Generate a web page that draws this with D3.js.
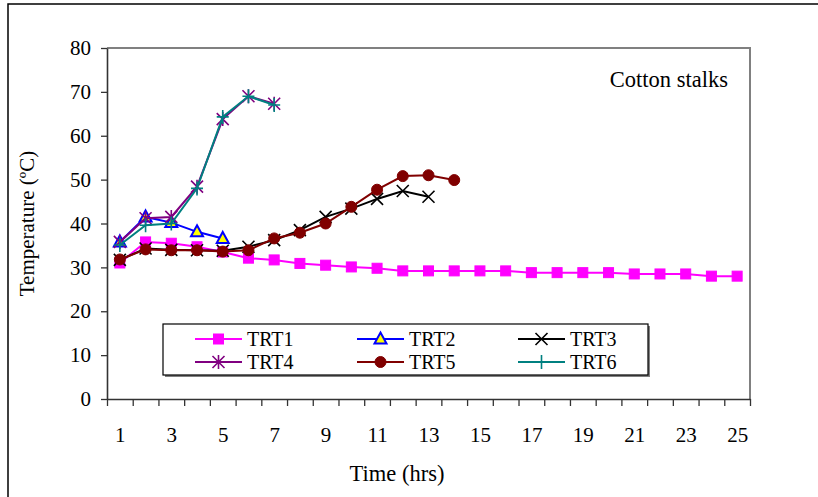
<!DOCTYPE html>
<meta charset="utf-8">
<head>
	<title>Cotton stalks</title>
	<script type="text/javascript" src="https://cdn.jsdelivr.net/npm/d3@7"></script>
	<style>
		body { margin: 0; background: #fff; }
		svg, svg text { font-family: 'Liberation Serif', 'Times New Roman', Times, 'DejaVu Serif', serif !important; fill: #000; }
	</style>
</head>
<body>
<div id="chart"></div>
<script>
	// hours on the category axis
	var hours = d3.range(1, 26);
	var xLabels = [1, 3, 5, 7, 9, 11, 13, 15, 17, 19, 21, 23, 25];
	var yTicks = [0, 10, 20, 30, 40, 50, 60, 70, 80];

	// temperature readings, one array per treatment
	var trt1 = [31.0, 35.8, 35.5, 34.7, 33.5, 32.1, 31.7, 30.9, 30.5, 30.1, 29.8, 29.2, 29.2,
		29.2, 29.2, 29.2, 28.8, 28.8, 28.8, 28.8, 28.5, 28.5, 28.5, 28.0, 28.0];
	var trt2 = [35.8, 41.5, 40.2, 38.1, 36.6];
	var trt3 = [31.7, 34.3, 34.0, 33.9, 33.8, 34.7, 36.2, 38.5, 41.5, 43.4, 45.6, 47.4, 46.1];
	var trt4 = [35.8, 41.2, 41.5, 48.4, 63.8, 69.0, 67.3];
	var trt5 = [31.8, 34.1, 33.9, 33.9, 33.6, 33.9, 36.6, 37.9, 40.0, 43.8, 47.7, 50.8, 51.0, 49.9];
	var trt6 = [35.1, 39.6, 40.0, 48.0, 64.3, 69.0, 67.0];

	var seriesNames = ["TRT1", "TRT2", "TRT3", "TRT4", "TRT5", "TRT6"];
	var seriesData = [trt1, trt2, trt3, trt4, trt5, trt6];
	var seriesColors = ["#ff00ff", "#0000ff", "#000000", "#800080", "#800000", "#008080"];
	var seriesMarks = ["square", "triangle", "cross", "star", "circle", "plus"];

	var W = 818, H = 497;
	var plot = {left: 107, right: 750, top: 48, bottom: 399};
	var serif = "'Liberation Serif', 'Times New Roman', Times, serif";

	var svg = d3.select("#chart").append("svg")
		.attr("width", W)
		.attr("height", H)
		.attr("font-family", serif);

	// outer frame (runs off the right and bottom)
	svg.append("rect")
		.attr("x", 8).attr("y", 4)
		.attr("width", W + 20).attr("height", H + 20)
		.attr("fill", "#fff")
		.attr("stroke", "#000")
		.attr("stroke-width", 1.5);

	var x = d3.scaleLinear().domain([0.5, 25.5]).range([plot.left, plot.right]);
	var y = d3.scaleLinear().domain([0, 80]).range([plot.bottom, plot.top]);

	// plot area border top / right
	svg.append("path")
		.attr("d", "M" + plot.left + "," + plot.top + "H" + plot.right + "V" + plot.bottom)
		.attr("fill", "none")
		.attr("stroke", "#808080")
		.attr("stroke-width", 2);

	// y axis
	var yAxis = svg.append("g")
		.attr("transform", "translate(" + plot.left + ",0)")
		.call(d3.axisLeft(y).tickValues(yTicks).tickSize(6).tickPadding(10).tickSizeOuter(0));
	yAxis.attr("font-family", serif).attr("font-size", 21);
	yAxis.select(".domain").attr("stroke", "#333").attr("stroke-width", 1.6);
	yAxis.selectAll(".tick line").attr("stroke", "#333").attr("stroke-width", 1.3);

	// x axis: ticks between categories
	var bounds = d3.range(0.5, 26, 1);
	var xAxis = svg.append("g")
		.attr("transform", "translate(0," + plot.bottom + ")")
		.call(d3.axisBottom(x).tickValues(bounds).tickSize(7).tickSizeOuter(0).tickFormat(""));
	xAxis.select(".domain").attr("stroke", "#333").attr("stroke-width", 1.6);
	xAxis.selectAll(".tick line").attr("stroke", "#333").attr("stroke-width", 1.3);

	var xLab = svg.append("g")
		.attr("transform", "translate(0," + plot.bottom + ")")
		.call(d3.axisBottom(x).tickValues(xLabels).tickSize(0).tickPadding(28).tickFormat(d3.format("d")));
	xLab.attr("font-family", serif).attr("font-size", 21);
	xLab.select(".domain").remove();

	// axis titles
	svg.append("text")
		.attr("x", 397)
		.attr("y", 481)
		.attr("text-anchor", "middle")
		.attr("font-size", 22.5)
		.text("Time (hrs)");

	svg.append("text")
		.attr("transform", "translate(34," + ((plot.top + plot.bottom) / 2) + ") rotate(-90)")
		.attr("text-anchor", "middle")
		.attr("font-size", 21)
		.text("Temperature (\u00baC)");

	svg.append("text")
		.attr("x", 728)
		.attr("y", 87)
		.attr("text-anchor", "end")
		.attr("font-size", 22.5)
		.text("Cotton stalks");

	// marker drawing
	function drawMark(sel, kind, color) {
		if (kind === "square") {
			sel.append("rect").attr("x", -5).attr("y", -5).attr("width", 10).attr("height", 10)
				.attr("fill", color).attr("stroke", color);
		} else if (kind === "triangle") {
			sel.append("path").attr("d", "M0,-6.5L6,4.5L-6,4.5Z")
				.attr("fill", "#ffff00").attr("stroke", color).attr("stroke-width", 2);
		} else if (kind === "cross") {
			sel.append("path").attr("d", "M-6,-6L6,6M-6,6L6,-6")
				.attr("stroke", color).attr("stroke-width", 1.6);
		} else if (kind === "star") {
			sel.append("path").attr("d", "M-6,-6L6,6M-6,6L6,-6M0,-7V7")
				.attr("stroke", color).attr("stroke-width", 1.6);
		} else if (kind === "circle") {
			sel.append("circle").attr("r", 5.5).attr("fill", color).attr("stroke", color);
		} else if (kind === "plus") {
			sel.append("path").attr("d", "M-6,0H6M0,-7V7")
				.attr("stroke", color).attr("stroke-width", 1.6);
		}
	}

	var line = d3.line()
		.x(function(d, i) { return x(hours[i]); })
		.y(function(d) { return y(d); });

	seriesData.forEach(function(data, s) {
		var g = svg.append("g").attr("class", "series");
		g.append("path")
			.datum(data)
			.attr("d", line)
			.attr("fill", "none")
			.attr("stroke", seriesColors[s])
			.attr("stroke-width", 2);
		g.selectAll("g.mark")
			.data(data)
			.enter().append("g")
			.attr("class", "mark")
			.attr("transform", function(d, i) { return "translate(" + x(hours[i]) + "," + y(d) + ")"; })
			.each(function() { drawMark(d3.select(this), seriesMarks[s], seriesColors[s]); });
	});

	// legend
	var leg = {x: 163, y: 324, w: 485, h: 51};
	svg.append("rect")
		.attr("x", leg.x + 2).attr("y", leg.y + 2)
		.attr("width", leg.w).attr("height", leg.h)
		.attr("fill", "#808080");
	svg.append("rect")
		.attr("x", leg.x).attr("y", leg.y)
		.attr("width", leg.w).attr("height", leg.h)
		.attr("fill", "#fff")
		.attr("stroke", "#000")
		.attr("stroke-width", 1.2);

	var colX = [195, 357, 518];
	var rowY = [339, 362];
	seriesNames.forEach(function(name, s) {
		var cx = colX[s % 3], cy = rowY[Math.floor(s / 3)];
		var g = svg.append("g").attr("transform", "translate(" + cx + "," + cy + ")");
		g.append("line").attr("x1", 0).attr("x2", 47)
			.attr("stroke", seriesColors[s]).attr("stroke-width", 2);
		var m = g.append("g").attr("transform", "translate(23.5,0)");
		drawMark(m, seriesMarks[s], seriesColors[s]);
		g.append("text")
			.attr("x", 52)
			.attr("y", 7)
			.attr("font-size", 20)
			.text(name);
	});
</script>
</body>
